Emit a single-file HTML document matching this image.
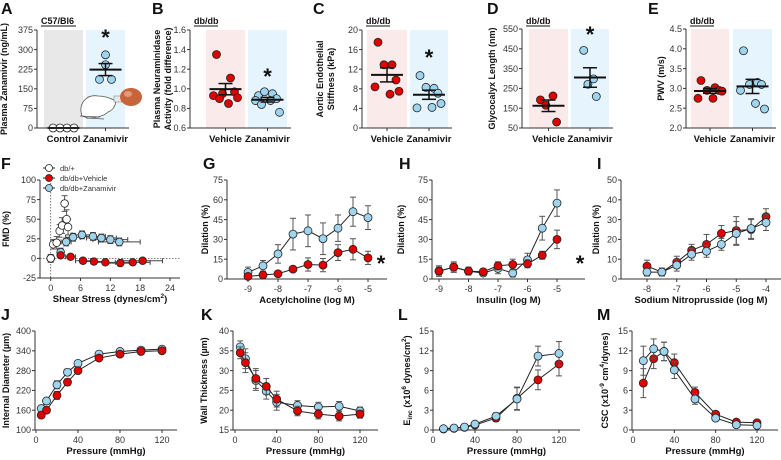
<!DOCTYPE html>
<html><head><meta charset="utf-8">
<style>
body{margin:0;background:#fff;}
svg{display:block;font-family:"Liberation Sans",Arial,sans-serif;}
</style></head>
<body>
<svg id="fig" width="781" height="460" viewBox="0 0 781 460" xmlns="http://www.w3.org/2000/svg"></svg>
<script>
// ---------- DATA ----------
const aControl=[0,0,0,0];
const aZanamivir=[280,242,186,186];
const bVehicle=[1.35,1.11,0.95,0.97,0.93,0.85,0.91,0.90];
const bZanamivir=[0.93,0.95,0.97,0.90,0.88,0.88,0.76,0.84];
const cVehicle=[17.5,12.9,12.9,9.8,8.4,6.9,7.5];
const cZanamivir=[10.7,8.1,8.3,7.1,4.1,4.2,5.0];
const dVehicle=[192,212,165,80];
const dZanamivir=[442,298,271,209];
const eVehicle=[3.2,3.02,2.95,2.95,2.75,2.75,2.93];
const eZanamivir=[3.95,3.15,3.1,3.1,2.95,2.62,2.48];

const fWtX=[0,0.5,1.2,1.8,2.3,2.8,3.2,3.5];
const fWtY=[0,18,20,35,42,70,50,40];
const fWtErr=[0,6,8,8,10,10,12,10];
const fVehX=[0,2,4,6.5,8.7,11,14,16.5,18.5];
const fVehY=[0,4,2,-3,-4,-5,-6,-5,-3];
const fVehXErr=[0,0.5,1,1.5,2,2.5,3,3.5,4];
const fZanX=[0,2,3.1,4.5,6.3,8.5,10.2,12,13.8];
const fZanY=[0,8,21,27,30,28,26,24,21];
const fZanXErr=[0,0.6,1,1.5,2,2.5,3,3.5,4.2];

const doseG=[-9,-8.5,-8,-7.5,-7,-6.5,-6,-5.5,-5];
const gZan=[5,10,19,34,36.5,30.5,38.5,51,46.5];
const gZanErr=[4,4,7,12,12,12,10,11,9];
const gVeh=[2,3,4,7.5,11,10.5,20,22.5,16];
const gVehErr=[1,1,1,2,5,5,6,8,5];

const doseH=[-9,-8.5,-8,-7.5,-7,-6.5,-6,-5.5,-5];
const hZan=[6,9,6,4.5,8,4.5,14.5,38.5,57.5];
const hZanErr=[4,4,3,2,4,3,5,9,10];
const hVeh=[6,9,6,5.5,10,11,11.5,18,30];
const hVehErr=[3,3,2,2,3,4,3,3,7];

const doseI=[-8,-7.5,-7,-6.5,-6,-5.5,-5,-4.5,-4];
const iVeh=[6.5,3.5,8.5,14.5,17.5,23,24.5,25,31.5];
const iVehErr=[3,2,3,3,5,4,7,5,4];
const iZan=[3.5,3.5,7,12.5,14,17.5,23,25.5,28.5];
const iZanErr=[2,2,3,3,3,3,6,5,4];

const pressJK=[5,10,20,30,40,60,80,100,120];
const jZan=[165,188,237,275,302,330,338,342,345];
const jVeh=[145,160,205,245,280,318,330,338,340];
const jErr=[8,8,12,10,8,6,6,6,6];
const kZan=[36,33,27.5,24.8,22,21.2,20.8,21,19.8];
const kVeh=[34.5,32,28,26,22.8,19.8,19,18.5,19];
const kErr=[1.5,2.5,2.5,2,2,1.2,1.2,1.2,1];

const pressLM=[10,20,30,40,60,80,100,120];
const lZan=[0.2,0.3,0.45,0.9,2.1,4.7,11.2,11.6];
const lVeh=[0.15,0.25,0.4,0.75,1.8,4.8,7.6,10];
const lErr=[0.1,0.1,0.2,0.3,0.5,1.7,1.5,1.8];
const mVeh=[7.1,10.8,11.9,10.2,5.7,2.4,1.2,1.1];
const mZan=[10.5,12.3,11.9,9.1,4.7,1.8,0.8,0.7];
const mErr=[2.2,1.5,1.4,1.3,0.8,0.4,0.3,0.3];

// ---------- HELPERS ----------
const NS="http://www.w3.org/2000/svg";
const svg=document.getElementById('fig');
const RED="#e00000", BLUE="#9fd4ef";
function mk(tag,attrs,parent){const e=document.createElementNS(NS,tag);for(const k in attrs)e.setAttribute(k,attrs[k]);(parent||svg).appendChild(e);return e;}
function txt(s,x,y,size,opts,parent){opts=opts||{};const t=mk('text',{x:x,y:y,'font-size':size,'text-anchor':opts.anchor||'middle','font-weight':opts.bold?'bold':'normal',fill:opts.fill||'#222'},parent);if(opts.rot)t.setAttribute('transform','rotate(-90 '+x+' '+y+')');t.textContent=s;return t;}
function lin(d0,d1,r0,r1){return v=>r0+(v-d0)/(d1-d0)*(r1-r0);}
function mean(a){return a.reduce((s,v)=>s+v,0)/a.length;}
function sem(a){const m=mean(a);return Math.sqrt(a.reduce((s,v)=>s+(v-m)*(v-m),0)/(a.length-1))/Math.sqrt(a.length);}

function panelLetter(ch,x,y){const t=txt(ch,x,y,16,{bold:true,anchor:'start',fill:'#111'});

}

function yAxis(g,ax,top,bot,ticks,ys,fmt){
  const l=mk('line',{x1:ax,x2:ax,y1:top,y2:bot,stroke:'#333','stroke-width':1},g);
  
  
  ticks.forEach(v=>{mk('line',{x1:ax-3,x2:ax,y1:ys(v),y2:ys(v),stroke:'#333'},g);
    const t=txt(fmt?fmt(v):String(v),ax-4,ys(v)+3.2,9,{anchor:'end',fill:'#333'},g);
    
    });
}
function xAxis(g,ay,x0,x1,ticks,xs,labels){
  const l=mk('line',{x1:x0,x2:x1,y1:ay,y2:ay,stroke:'#333'},g);
  
  
  ticks.forEach((v,i)=>{mk('line',{x1:xs(v),x2:xs(v),y1:ay,y2:ay+3,stroke:'#333'},g);
    const t=txt(labels?labels[i]:String(v),xs(v),ay+13,9,{fill:'#333'},g);
    
    });
}

// ---------- DOT PLOTS ----------
const jit=[-9,5,-3,9,-12,3,12,-6];
function dotPanel(cfg,groups){
  const g=mk('g',{});
  
  
  const ys=lin(cfg.ymin,cfg.ymax,cfg.bot,cfg.top);
  groups.forEach((gr,gi)=>{
    const r=mk('rect',{x:gr.x0,y:cfg.top,width:gr.x1-gr.x0,height:cfg.bot-cfg.top,fill:gr.bg},g);
    
    
    const cx=(gr.x0+gr.x1)/2;
    const n=gr.vals.length;
    const jj=gr.jit||jit;
    gr.vals.forEach((v,i)=>{
      const off=gr.spread? (i-(n-1)/2)*gr.spread : jj[i%jj.length]*(gr.jscale||1);
      const c=mk('circle',{cx:cx+off,cy:ys(v),r:4,fill:gr.color,stroke:'#222','stroke-width':0.8},g);
      
      
    });
    const m=mean(gr.vals),s=sem(gr.vals);
    const ml=mk('line',{x1:cx-16,x2:cx+16,y1:ys(m),y2:ys(m),stroke:'#111','stroke-width':2},g);
    
    
    if(s>0){
      mk('line',{x1:cx,x2:cx,y1:ys(m+s),y2:ys(m-s),stroke:'#111','stroke-width':1.5},g);
      mk('line',{x1:cx-7,x2:cx+7,y1:ys(m+s),y2:ys(m+s),stroke:'#111','stroke-width':1.5},g);
      mk('line',{x1:cx-7,x2:cx+7,y1:ys(m-s),y2:ys(m-s),stroke:'#111','stroke-width':1.5},g);
    }
    const cl=txt(gr.label,cx,142,9.5,{bold:true,fill:'#111'},g);
    
    
    mk('line',{x1:cx,x2:cx,y1:cfg.bot,y2:cfg.bot+3,stroke:'#333'},g);
    if(gr.star){const st=txt('*',cx,cfg.starY,22,{bold:true,fill:'#111'},g);
      
      }
  });
  yAxis(g,cfg.ax,cfg.top,cfg.bot,cfg.ticks,ys,cfg.fmt);
  mk('line',{x1:cfg.ax,x2:groups[1].x1+4,y1:cfg.bot,y2:cfg.bot,stroke:'#333'},g);
  const sub=txt(cfg.sub,cfg.ax+4,24,9,{bold:true,anchor:'start',fill:'#111'},g);
  
  
  mk('line',{x1:cfg.ax+4,x2:cfg.ax+4+cfg.subW,y1:26,y2:26,stroke:'#111'},g);
  cfg.ylab.forEach((s,i)=>{const t=txt(s,cfg.labX+i*11,(cfg.top+cfg.bot)/2,9,{bold:true,rot:true,fill:'#111'},g);
    
    });
  return g;
}

panelLetter('A',1,14);
dotPanel({id:'a',ax:37,top:30,bot:128,ymin:0,ymax:375,ticks:[0,75,150,225,300,375],sub:'C57/Bl6',subW:35,labX:7,ylab:['Plasma Zanamivir (ng/mL)'],starY:45},
 [{x0:44,x1:83,bg:'#e8e8e8',vals:aControl,color:'#fff',label:'Control',spread:7},
  {x0:86,x1:125,bg:'#e6f4fd',vals:aZanamivir,color:BLUE,label:'Zanamivir',star:true,jit:[0,0,-6,6]}]);
// mouse illustration
(function(){const g=mk('g',{});
 
 
 mk('path',{d:'M82 116 C78 104 86 94 98 96 C104 96 110 98 114 100 L116 99 C116 104 114 110 108 112 C104 116 96 118 88 118 Z',fill:'#fff',stroke:'#555','stroke-width':0.8},g);
 mk('path',{d:'M80 116 L100 117 M86 118 L104 119',stroke:'#555','stroke-width':0.8,fill:'none'},g);
 mk('rect',{x:114,y:96,width:8,height:6,fill:'#e8e8e8',stroke:'#777','stroke-width':0.5},g);
 mk('ellipse',{cx:131,cy:97,rx:11,ry:9,fill:'#c8643c'},g);
 mk('ellipse',{cx:128,cy:94,rx:4,ry:3,fill:'#e39a78'},g);})();

panelLetter('B',152,14);
dotPanel({id:'b',ax:190,top:30,bot:128,ymin:0.6,ymax:1.6,ticks:[0.6,0.8,1.0,1.2,1.4,1.6],fmt:v=>v.toFixed(1),sub:'db/db',subW:24,labX:160,ylab:['Plasma Neuraminidase','Activity (fold difference)'],starY:84},
 [{x0:206,x1:245,bg:'#fbeaea',vals:bVehicle,color:RED,label:'Vehicle'},
  {x0:248,x1:287,bg:'#e6f4fd',vals:bZanamivir,color:BLUE,label:'Zanamivir',star:true}]);

panelLetter('C',313,14);
dotPanel({id:'c',ax:362,top:30,bot:128,ymin:0,ymax:20,ticks:[0,4,8,12,16,20],sub:'db/db',subW:24,labX:323,ylab:['Aortic Endothelial','Stiffness (kPa)'],starY:65},
 [{x0:367,x1:407,bg:'#fbeaea',vals:cVehicle,color:RED,label:'Vehicle'},
  {x0:410,x1:448,bg:'#e6f4fd',vals:cZanamivir,color:BLUE,label:'Zanamivir',star:true}]);

panelLetter('D',487,14);
dotPanel({id:'d',ax:522,top:29,bot:128,ymin:50,ymax:550,ticks:[50,150,250,350,450,550],sub:'db/db',subW:24,labX:495,ylab:['Glycocalyx Length (nm)'],starY:42},
 [{x0:529,x1:568,bg:'#fbeaea',vals:dVehicle,color:RED,label:'Vehicle',jscale:0.9},
  {x0:571,x1:609,bg:'#e6f4fd',vals:dZanamivir,color:BLUE,label:'Zanamivir',star:true,jscale:0.7}]);

panelLetter('E',648,14);
dotPanel({id:'e',ax:686,top:29,bot:128,ymin:2.0,ymax:4.5,ticks:[2.0,2.5,3.0,3.5,4.0,4.5],fmt:v=>v.toFixed(1),sub:'db/db',subW:24,labX:664,ylab:['PWV (m/s)']},
 [{x0:691,x1:729,bg:'#fbeaea',vals:eVehicle,color:RED,label:'Vehicle'},
  {x0:733,x1:772,bg:'#e6f4fd',vals:eZanamivir,color:BLUE,label:'Zanamivir'}]);

// ---------- LINE PANELS ----------
function linePanel(cfg,series){
  const g=mk('g',{});
  
  
  const xs=lin(cfg.xmin,cfg.xmax,cfg.px0,cfg.px1), ys=lin(cfg.ymin,cfg.ymax,cfg.bot,cfg.top);
  if(cfg.zeroLines){
    mk('line',{x1:xs(0),x2:xs(0),y1:cfg.top,y2:cfg.bot,stroke:'#555','stroke-dasharray':'1.5,1.5','stroke-width':0.8},g);
    mk('line',{x1:cfg.ax,x2:cfg.xend,y1:ys(0),y2:ys(0),stroke:'#555','stroke-dasharray':'1.5,1.5','stroke-width':0.8},g);
  }
  yAxis(g,cfg.ax,cfg.top,cfg.bot,cfg.yticks,ys);
  xAxis(g,cfg.bot,cfg.ax,cfg.xend,cfg.xticks,xs,cfg.xlabels);
  series.forEach(s=>{
    const sg=mk('g',{},g);
    
    
    s.x.forEach((xv,i)=>{
      const e=s.err?s.err[i]:0;
      if(e>0){const px=xs(xv);
        mk('line',{x1:px,x2:px,y1:ys(s.y[i]+e),y2:ys(s.y[i]-e),stroke:'#555','stroke-width':1},sg);
        mk('line',{x1:px-3,x2:px+3,y1:ys(s.y[i]+e),y2:ys(s.y[i]+e),stroke:'#555'},sg);
        mk('line',{x1:px-3,x2:px+3,y1:ys(s.y[i]-e),y2:ys(s.y[i]-e),stroke:'#555'},sg);}
      const xe=s.xerr?s.xerr[i]:0;
      if(xe>0){const py=ys(s.y[i]);
        mk('line',{x1:xs(xv-xe),x2:xs(xv+xe),y1:py,y2:py,stroke:'#444','stroke-width':1},sg);
        mk('line',{x1:xs(xv+xe),x2:xs(xv+xe),y1:py-2.5,y2:py+2.5,stroke:'#444'},sg);
        mk('line',{x1:xs(xv-xe),x2:xs(xv-xe),y1:py-2.5,y2:py+2.5,stroke:'#444'},sg);}
    });
    if(!s.noLine){const pts=s.x.map((xv,i)=>xs(xv)+','+ys(s.y[i])).join(' ');
      const pl=mk('polyline',{points:pts,fill:'none',stroke:'#222','stroke-width':1},sg);
      
      }
    s.x.forEach((xv,i)=>{const c=mk('circle',{cx:xs(xv),cy:ys(s.y[i]),r:cfg.r||4,fill:s.color,stroke:'#222','stroke-width':0.8},sg);
      
      });
  });
  const lines=Array.isArray(cfg.ylab)?cfg.ylab:[cfg.ylab];
  lines.forEach(s=>{const t=mk('text',{x:cfg.labX,y:(cfg.top+cfg.bot)/2,'font-size':9,'font-weight':'bold','text-anchor':'middle',fill:'#111',transform:'rotate(-90 '+cfg.labX+' '+(cfg.top+cfg.bot)/2+')'},g);
    t.innerHTML=s;
    
    });
  const xt=mk('text',{x:(cfg.ax+cfg.xend)/2,y:cfg.bot+24,'font-size':9.5,'font-weight':'bold','text-anchor':'middle',fill:'#111'},g);
  xt.innerHTML=cfg.xlab;
  
  
  if(cfg.star){const st=txt('*',cfg.star[0],cfg.star[1],22,{bold:true,fill:'#111'},g);
    
    }
  return g;
}

panelLetter('F',1,169);
linePanel({id:'f',ax:40,px0:50.7,px1:170,xmin:0,xmax:24,xend:180,top:180,bot:278,ymin:-25,ymax:100,yticks:[-25,0,25,50,75,100],xticks:[0,6,12,18,24],zeroLines:true,ylab:'FMD (%)',labX:9,xlab:'Shear Stress (dynes/cm<tspan dy="-4" font-size="6.5">2</tspan><tspan dy="4">)</tspan>',r:3.8},
 [{name:'db-zanamivir-series',x:fZanX,y:fZanY,xerr:fZanXErr,err:fZanY.map(()=>5),color:BLUE,noLine:true},
  {name:'db-vehicle-series',x:fVehX,y:fVehY,xerr:fVehXErr,err:fVehY.map(()=>2),color:RED,noLine:true},
  {name:'wildtype-series',x:fWtX,y:fWtY,err:fWtErr,color:'#fff',noLine:true}]);
// legend F
(function(){const items=[['db/+','#fff'],['db/db+Vehicle',RED],['db/db+Zanamivir',BLUE]];
 items.forEach((it,i)=>{const g=mk('g',{});
  
  
  const y=168+i*10;
  mk('line',{x1:43,x2:55,y1:y,y2:y,stroke:'#222'},g);
  mk('circle',{cx:49,cy:y,r:3.5,fill:it[1],stroke:'#222','stroke-width':0.8},g);
  txt(it[0],60,y+3,7.5,{anchor:'start',fill:'#333'},g);});})();

panelLetter('G',203,169);
linePanel({id:'g',ax:227,px0:248,px1:368,xmin:-9,xmax:-5,xend:387,top:180,bot:279,ymin:0,ymax:75,yticks:[0,15,30,45,60,75],xticks:[-9,-8,-7,-6,-5],ylab:'Dilation (%)',labX:208,xlab:'Acetylcholine (log M)',star:[381,271]},
 [{name:'zanamivir-series',x:doseG,y:gZan,err:gZanErr,color:BLUE},
  {name:'vehicle-series',x:doseG,y:gVeh,err:gVehErr,color:RED}]);

panelLetter('H',399,169);
linePanel({id:'h',ax:432,px0:439,px1:557,xmin:-9,xmax:-5,xend:585,top:180,bot:279,ymin:0,ymax:75,yticks:[0,15,30,45,60,75],xticks:[-9,-8,-7,-6,-5],ylab:'Dilation (%)',labX:404,xlab:'Insulin (log M)',star:[580,271]},
 [{name:'zanamivir-series',x:doseH,y:hZan,err:hZanErr,color:BLUE},
  {name:'vehicle-series',x:doseH,y:hVeh,err:hVehErr,color:RED}]);

panelLetter('I',597,169);
linePanel({id:'i',ax:621,px0:647,px1:766,xmin:-8,xmax:-4,xend:781,top:180,bot:279,ymin:0,ymax:50,yticks:[0,10,20,30,40,50],xticks:[-8,-7,-6,-5,-4],ylab:'Dilation (%)',labX:599,xlab:'Sodium Nitroprusside (log M)'},
 [{name:'vehicle-series',x:doseI,y:iVeh,err:iVehErr,color:RED},
  {name:'zanamivir-series',x:doseI,y:iZan,err:iZanErr,color:BLUE}]);

panelLetter('J',1,320);
linePanel({id:'j',ax:35,px0:36,px1:162,xmin:0,xmax:120,xend:177,top:331,bot:430,ymin:100,ymax:400,yticks:[100,160,220,280,340,400],xticks:[0,40,80,120],ylab:'Internal Diameter (µm)',labX:9,xlab:'Pressure (mmHg)'},
 [{name:'zanamivir-series',x:pressJK,y:jZan,err:jErr,color:BLUE},
  {name:'vehicle-series',x:pressJK,y:jVeh,err:jErr,color:RED}]);

panelLetter('K',201,320);
linePanel({id:'k',ax:233,px0:235,px1:360,xmin:0,xmax:120,xend:378,top:331,bot:430,ymin:15,ymax:40,yticks:[15,20,25,30,35,40],xticks:[0,40,80,120],ylab:'Wall Thickness (µm)',labX:207,xlab:'Pressure (mmHg)'},
 [{name:'zanamivir-series',x:pressJK,y:kZan,err:kErr,color:BLUE},
  {name:'vehicle-series',x:pressJK,y:kVeh,err:kErr,color:RED}]);

panelLetter('L',398,320);
linePanel({id:'l',ax:433,px0:433,px1:559,xmin:0,xmax:120,xend:580,top:331,bot:430,ymin:0,ymax:15,yticks:[0,3,6,9,12,15],xticks:[0,40,80,120],ylab:'E<tspan dy="2" font-size="6.5">inc</tspan><tspan dy="-2"> (x10</tspan><tspan dy="-4" font-size="6.5">6</tspan><tspan dy="4"> dynes/cm</tspan><tspan dy="-4" font-size="6.5">2</tspan><tspan dy="4">)</tspan>',labX:410,xlab:'Pressure (mmHg)'},
 [{name:'vehicle-series',x:pressLM,y:lVeh,err:lErr,color:RED},
  {name:'zanamivir-series',x:pressLM,y:lZan,err:lErr,color:BLUE}]);

panelLetter('M',597,320);
linePanel({id:'m',ax:632,px0:633,px1:757,xmin:0,xmax:120,xend:778,top:331,bot:430,ymin:0,ymax:15,yticks:[0,3,6,9,12,15],xticks:[0,40,80,120],ylab:'CSC (x10<tspan dy="-4" font-size="6.5">-9</tspan><tspan dy="4"> cm</tspan><tspan dy="-4" font-size="6.5">4</tspan><tspan dy="4">/dynes)</tspan>',labX:608,xlab:'Pressure (mmHg)'},
 [{name:'vehicle-series',x:pressLM,y:mVeh,err:mErr,color:RED},
  {name:'zanamivir-series',x:pressLM,y:mZan,err:mErr,color:BLUE}]);
</script>
</body></html>
